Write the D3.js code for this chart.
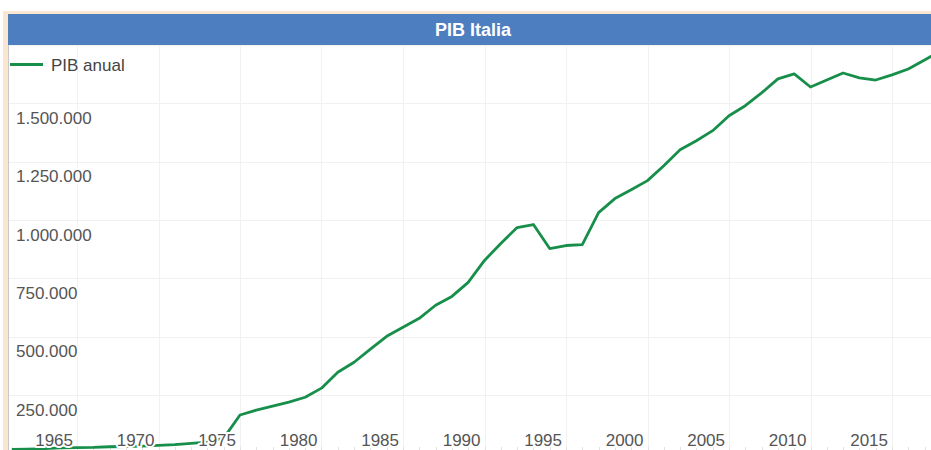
<!DOCTYPE html>
<html>
<head>
<meta charset="utf-8">
<script src="https://cdn.jsdelivr.net/npm/d3@7/dist/d3.min.js"></script>
<style>
  body { margin: 0; background: #fff; }
  svg { display: block; font-family: "Liberation Sans", Arial, sans-serif; }
  .grid line { stroke: #f1f1f1; stroke-width: 1; shape-rendering: crispEdges; }
  .minor line { stroke: #e2e2e2; stroke-width: 1; shape-rendering: crispEdges; }
  .lbl { fill: #555; font-size: 17px; stroke: #fff; stroke-width: 4px; paint-order: stroke; stroke-linejoin: round; }
</style>
</head>
<body>
<div class="chart1"></div>
<script>
// PIB anual
var years = [1961, 1962, 1963, 1964, 1965, 1966, 1967, 1968, 1969, 1970,
             1971, 1972, 1973, 1974, 1975, 1976, 1977, 1978, 1979, 1980,
             1981, 1982, 1983, 1984, 1985, 1986, 1987, 1988, 1989, 1990,
             1991, 1992, 1993, 1994, 1995, 1996, 1997, 1998, 1999, 2000,
             2001, 2002, 2003, 2004, 2005, 2006, 2007, 2008, 2009, 2010,
             2011, 2012, 2013, 2014, 2015, 2016, 2017, 2018];
var pib = [18000, 19000, 21000, 24000, 25000, 26000, 29000, 30000, 32000, 35000,
           38000, 43000, 49000, 66000, 165000, 186000, 203000, 220000, 241000, 280000,
           348000, 391000, 447000, 502000, 541000, 579000, 635000, 673000, 733000, 827000,
           900000, 968000, 981000, 878000, 891000, 895000, 1032000, 1092000, 1130000, 1169000,
           1233000, 1301000, 1340000, 1383000, 1447000, 1490000, 1545000, 1605000, 1626000, 1570000,
           1600000, 1630000, 1609000, 1600000, 1622000, 1647000, 1686000, 1724000];
var xTicks = [1965, 1970, 1975, 1980, 1985, 1990, 1995, 2000, 2005, 2010, 2015];
var yTicks = [250000, 500000, 750000, 1000000, 1250000, 1500000, 1750000];
var title = "PIB Italia",
    seriesName = "PIB anual";

var outerWidth = 931,
    outerHeight = 450,
    plot = {left: 9, top: 45, right: 931, bottom: 450},
    lineColor = "#178f4a";

var xScale = d3.scaleLinear().domain([1965, 2015]).range([77, 892]),
    yScale = d3.scaleLinear().domain([0, 1750000]).range([453.5, 45]);

var it = d3.formatLocale({decimal: ",", thousands: ".", grouping: [3], currency: ["", " €"]}),
    fmt = it.format(",d");

var svg = d3.select(".chart1").append("svg")
    .attr("width", outerWidth)
    .attr("height", outerHeight);

// marco
svg.append("rect")
    .attr("x", 3).attr("y", 11)
    .attr("width", outerWidth).attr("height", outerHeight)
    .attr("fill", "#fbe6d1");
svg.append("rect")
    .attr("x", plot.left - 1).attr("y", 14)
    .attr("width", outerWidth).attr("height", outerHeight)
    .attr("fill", "#fff");
svg.append("line")
    .attr("x1", plot.left - 0.5).attr("x2", plot.left - 0.5)
    .attr("y1", 14).attr("y2", outerHeight)
    .attr("stroke", "#c9c9c9");

svg.append("clipPath").attr("id", "clip")
  .append("rect")
    .attr("x", plot.left).attr("y", plot.top)
    .attr("width", plot.right - plot.left)
    .attr("height", plot.bottom - plot.top);

// rejilla
var grid = svg.append("g").attr("class", "grid").attr("clip-path", "url(#clip)");
grid.selectAll(".gy")
    .data(yTicks)
  .enter().append("line")
    .attr("x1", plot.left).attr("x2", plot.right)
    .attr("y1", function(d) { return Math.round(yScale(d)) + 0.5; })
    .attr("y2", function(d) { return Math.round(yScale(d)) + 0.5; });
grid.selectAll(".gx")
    .data(xTicks)
  .enter().append("line")
    .attr("y1", plot.top).attr("y2", plot.bottom)
    .attr("x1", function(d) { return Math.round(xScale(d)) + 0.5; })
    .attr("x2", function(d) { return Math.round(xScale(d)) + 0.5; });

// marcas menores (una por año)
svg.append("g").attr("class", "minor")
  .selectAll("line")
    .data(years)
  .enter().append("line")
    .attr("x1", function(d) { return Math.round(xScale(d)) + 0.5; })
    .attr("x2", function(d) { return Math.round(xScale(d)) + 0.5; })
    .attr("y1", plot.bottom - 3).attr("y2", plot.bottom);

// serie
var line = d3.line()
    .x(function(d, i) { return xScale(years[i]); })
    .y(function(d) { return yScale(d); });

svg.append("path")
    .datum(pib)
    .attr("clip-path", "url(#clip)")
    .attr("fill", "none")
    .attr("stroke", lineColor)
    .attr("stroke-width", 2.8)
    .attr("stroke-linejoin", "round")
    .attr("d", line);

// etiquetas eje y (debajo de la linea de rejilla)
svg.append("g")
  .selectAll("text")
    .data(yTicks.slice(0, -1))
  .enter().append("text")
    .attr("class", "lbl")
    .attr("x", 16)
    .attr("y", function(d) { return yScale(d) + 20.5; })
    .text(function(d) { return fmt(d); });

// etiquetas eje x (a la izquierda de la rejilla, con halo blanco)
svg.append("g")
  .selectAll("text")
    .data(xTicks)
  .enter().append("text")
    .attr("class", "lbl")
    .attr("text-anchor", "end")
    .attr("x", function(d) { return xScale(d) - 4; })
    .attr("y", 446)
    .text(function(d) { return d; });

// titulo
svg.append("rect")
    .attr("x", plot.left - 1).attr("y", 14)
    .attr("width", outerWidth).attr("height", plot.top - 14)
    .attr("fill", "#4d7ebf");
svg.append("text")
    .attr("x", plot.left - 1 + 930 / 2)
    .attr("y", 36)
    .attr("text-anchor", "middle")
    .attr("fill", "#fff")
    .style("font-size", "18px")
    .style("font-weight", "bold")
    .text(title);

// leyenda
var legend = svg.append("g").attr("class", "legend");
legend.append("line")
    .attr("x1", plot.left + 1).attr("x2", 43)
    .attr("y1", 64.5).attr("y2", 64.5)
    .attr("stroke", lineColor)
    .attr("stroke-width", 2.8);
legend.append("text")
    .attr("x", 51).attr("y", 70.5)
    .attr("fill", "#444")
    .style("font-size", "17px")
    .text(seriesName);
</script>
</body>
</html>
